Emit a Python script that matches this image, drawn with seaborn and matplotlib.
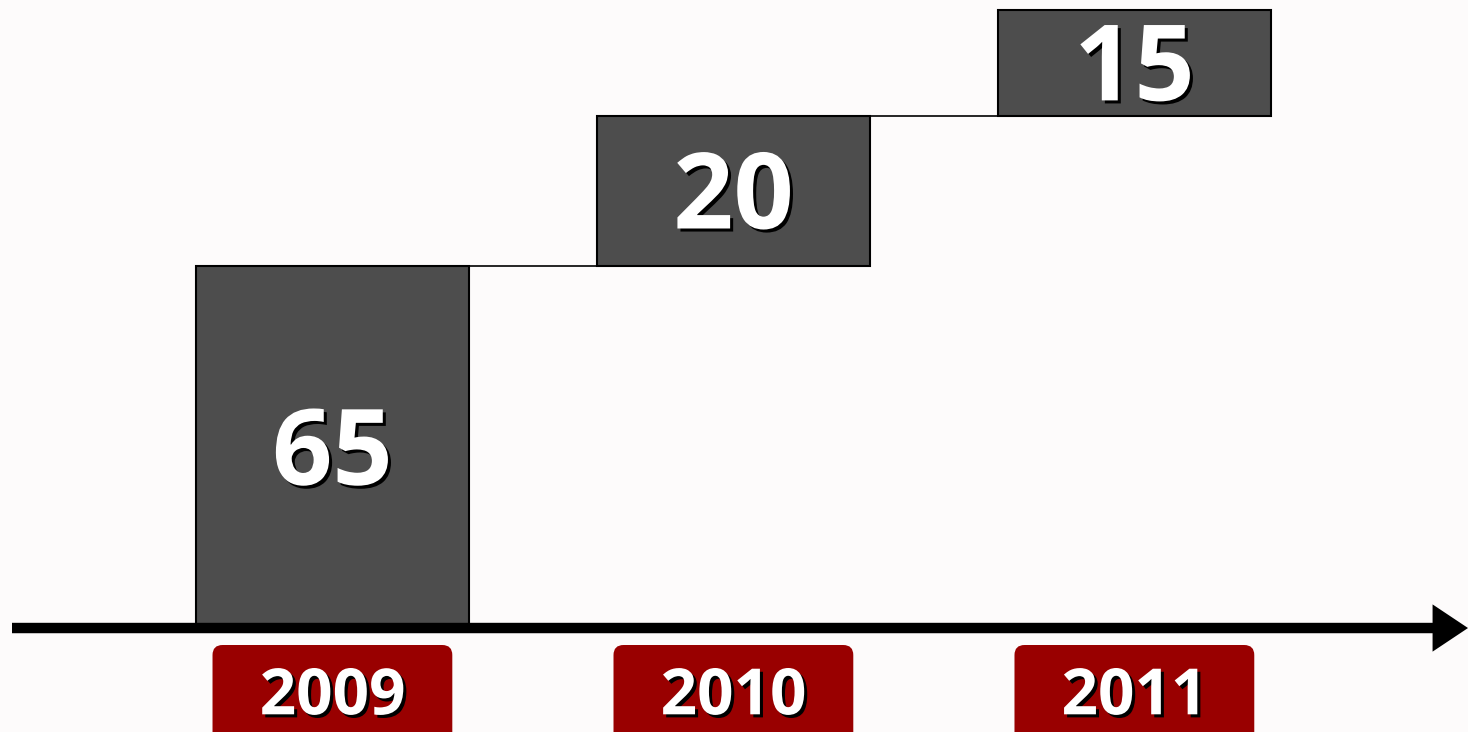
import numpy as np
import pandas as pd
import seaborn as sns
import matplotlib.pyplot as plt
import matplotlib.patheffects as pe
from matplotlib.patches import FancyBboxPatch

# data
years = ['2009', '2010', '2011']
values = [65, 20, 15]          # numbers printed in the bars
heights = [65, 27, 19]         # drawn bar heights (as in the picture)
bottoms = list(np.concatenate([[0], np.cumsum(heights)[:-1]]))

df = pd.DataFrame({'year': years, 'height': heights, 'bottom': bottoms, 'value': values})

sns.set_style('white')
plt.rcParams['font.family'] = ['Open Sans', 'DejaVu Sans']

bg = '#fdfbfb'
fig = plt.figure(figsize=(14.68, 7.32), dpi=100, facecolor=bg)
ax = fig.add_axes([0, 0, 1, 1])
ax.set_facecolor(bg)

bar_w = 0.68
sns.barplot(data=df, x='year', y='height', bottom=df['bottom'], width=bar_w,
            color='#4d4d4d', saturation=1, edgecolor='black', linewidth=1.5,
            ax=ax, zorder=3)

# connector lines between steps
tops = df['bottom'] + df['height']
for i in range(len(df) - 1):
    ax.plot([i + bar_w / 2, i + 1 - bar_w / 2], [tops[i], tops[i]],
            color='black', lw=1.2, zorder=2)

shadow = [pe.withSimplePatchShadow(offset=(2.2, -2.2), shadow_rgbFace='black', alpha=1)]

# value labels in the middle of each bar
fs_val = 76
for i, row in df.iterrows():
    ax.annotate(str(row['value']), xy=(i, row['bottom'] + row['height'] / 2),
                xytext=(0, -0.357 * fs_val), textcoords='offset points',
                ha='center', va='baseline', fontsize=fs_val, fontweight='bold',
                color='white', path_effects=shadow, zorder=5)

# time axis arrow
ax.annotate('', xy=(1.0, 0), xytext=(12 / 1468, 0),
            xycoords=('axes fraction', 'data'), textcoords=('axes fraction', 'data'),
            arrowprops=dict(arrowstyle='-|>,head_length=1.5,head_width=1.0',
                            mutation_scale=10, lw=7.5, color='black',
                            shrinkA=0, shrinkB=0, joinstyle='miter', capstyle='butt'),
            zorder=4)

# year boxes
ylo, yhi = -18.67, 112.76
xlo, xhi = -0.829, 2.832
asp = ((yhi - ylo) / 732) / ((xhi - xlo) / 1468)
fs_year = 46
for i, yr in enumerate(years):
    box = FancyBboxPatch((i - 0.299, -25), 0.598, 25 - 3.05,
                         boxstyle='round,pad=0,rounding_size=0.025',
                         mutation_aspect=asp, fc='#990000', ec='none', zorder=3)
    ax.add_patch(box)
    ax.annotate(yr, xy=(i, -11.4), xytext=(0, -0.357 * fs_year), textcoords='offset points',
                ha='center', va='baseline', fontsize=fs_year, fontweight='bold',
                color='white', path_effects=shadow, zorder=5)

ax.set_xlim(xlo, xhi)
ax.set_ylim(ylo, yhi)
ax.axis('off')

fig.savefig('out.png', dpi=100, facecolor=bg)
